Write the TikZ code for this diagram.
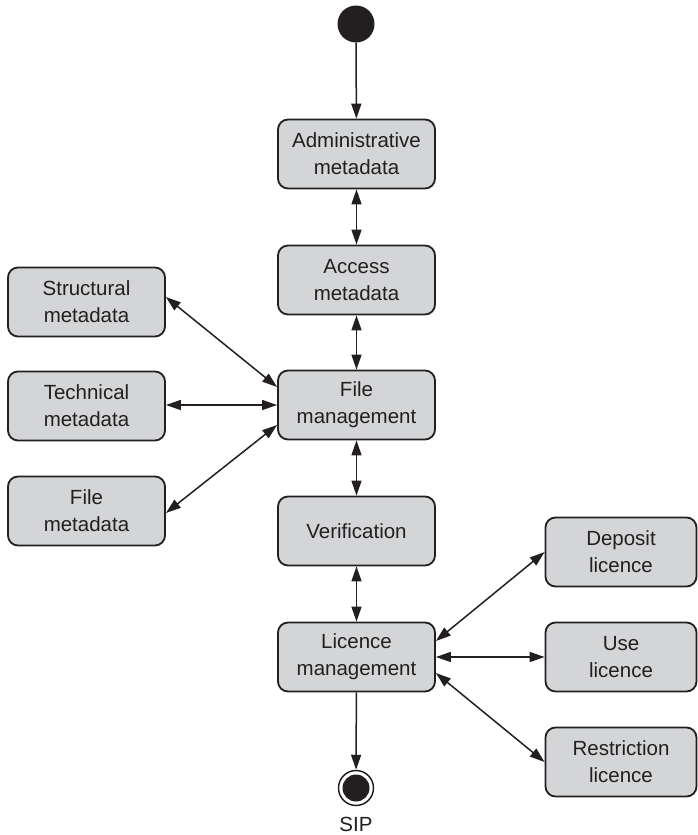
\documentclass[tikz,border=0pt]{standalone}
\usepackage{fontspec}
\setmainfont{Liberation Sans}
\usetikzlibrary{arrows.meta}
\definecolor{boxfill}{HTML}{D4D5D7}
\definecolor{ink}{HTML}{231F20}
\begin{document}
\begin{tikzpicture}[x=1pt,y=-1pt,
  stepbox/.style={draw=ink, line width=1.8pt, fill=boxfill, rounded corners=10pt,
    minimum height=69pt, align=center, text=ink, inner sep=0pt,
    font=\fontsize{20.5}{27}\selectfont},
  mainbox/.style={stepbox, minimum width=157pt},
  sidebox/.style={stepbox, minimum width=157pt},
  rightbox/.style={stepbox, minimum width=151pt},
  tip/.tip={Triangle[length=15pt,width=10pt]},
  link/.style={draw=ink, line width=1.5pt, tip-tip},
  flow/.style={draw=ink, line width=1.5pt, -tip},
  dot/.style={circle, fill=ink, inner sep=0pt}
]
\useasboundingbox (0,0) rectangle (698,835);

% start and end states
\node[dot, minimum size=37pt] (start) at (356,24) {};
\node[circle, draw=ink, line width=1.5pt, inner sep=0pt, minimum size=35pt] (stop) at (356,788) {};
\node[dot, minimum size=27pt] (stopcore) at (stop.center) {};
\node[anchor=base, text=ink, font=\fontsize{20.5}{27}\selectfont, inner sep=0pt] (sip) at (356,831) {SIP};

% main column
\node[mainbox] (admin)  at (356.5,154) {Administrative\\metadata};
\node[mainbox] (access) at (356.5,280) {Access\\metadata};
\node[mainbox] (filem)  at (356.5,405) {File\\management};
\node[mainbox] (verif)  at (356.5,531) {Verification};
\node[mainbox] (licm)   at (356.5,657) {Licence\\management};

% metadata on the left
\node[sidebox] (struct)   at (86.5,302) {Structural\\metadata};
\node[sidebox] (tech)     at (86.5,406) {Technical\\metadata};
\node[sidebox] (filemeta) at (86.5,511) {File\\metadata};

% licences on the right
\node[rightbox] (deposit)  at (621,552) {Deposit\\licence};
\node[rightbox] (uselic)   at (621,657) {Use\\licence};
\node[rightbox] (restrict) at (621,762) {Restriction\\licence};

% connectors
\draw[flow] (start) -- (admin);
\draw[link] (admin) -- (access);
\draw[link] (access) -- (filem);
\draw[link] (filem) -- (verif);
\draw[link] (verif) -- (licm);
\draw[flow] (licm) -- (stop);

\draw[link] ([yshift=5pt]struct.east) -- ([yshift=18pt]filem.west);
\draw[link] (tech.east |- filem.west) -- (filem.west);
\draw[link] ([yshift=-2pt]filemeta.east) -- ([yshift=-20pt]filem.west);

\draw[link] ([yshift=16pt]licm.east) -- (deposit.west);
\draw[link] (licm.east) -- (uselic.west);
\draw[link] ([yshift=-16pt]licm.east) -- (restrict.west);
\end{tikzpicture}
\end{document}
